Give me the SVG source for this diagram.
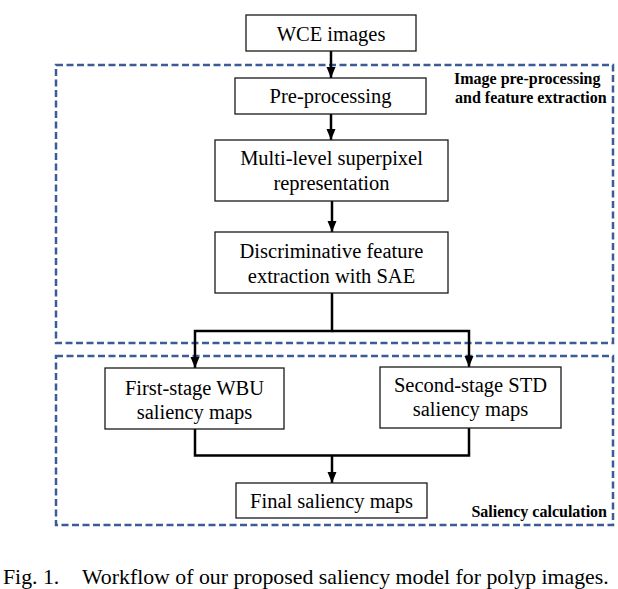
<svg xmlns="http://www.w3.org/2000/svg" width="618" height="589" viewBox="0 0 618 589">
<style>
.box{fill:#fff;stroke:#1a1a1a;stroke-width:1.3}
.t{font-family:"Liberation Serif","Times New Roman",serif;font-size:20.5px;fill:#000;text-anchor:middle}
.lbl{font-family:"Liberation Serif","Times New Roman",serif;font-size:16px;font-weight:bold;fill:#000}
.grp{fill:none;stroke:#3b5c99;stroke-width:2.5;stroke-dasharray:7 3.5}
.c{fill:none;stroke:#000;stroke-width:2.5}
.cap{font-family:"Liberation Serif","Times New Roman",serif;font-size:21.8px;fill:#000}
</style>
<defs>
<marker id="ah" markerUnits="userSpaceOnUse" markerWidth="12" markerHeight="12" viewBox="0 0 12 12" refX="11" refY="6" orient="auto">
<path d="M0,1.5 L11,6 L0,10.5 Z" fill="#000"/>
</marker>
</defs>
<g id="group-preprocessing">
<rect class="grp" x="56" y="65" width="557" height="278"/>
<text class="lbl" x="454" y="84">Image pre-processing</text>
<text class="lbl" x="455" y="103">and feature extraction</text>
</g>
<g id="group-saliency">
<rect class="grp" x="56" y="356" width="557" height="169"/>
<text class="lbl" x="607" y="517" text-anchor="end">Saliency calculation</text>
</g>
<g id="connectors">
<path class="c" d="M331,51 V78" marker-end="url(#ah)"/>
<path class="c" d="M331,114 V140" marker-end="url(#ah)"/>
<path class="c" d="M332,201 V232" marker-end="url(#ah)"/>
<path class="c" d="M332,293 V331 H195 V368" marker-end="url(#ah)"/>
<path class="c" d="M332,331 H469 V367" marker-end="url(#ah)"/>
<path class="c" d="M195,429 V455.5 H469 V428"/>
<path class="c" d="M332,455.5 V483" marker-end="url(#ah)"/>
</g>
<g id="wce">
<rect class="box" x="246" y="15" width="170" height="36"/>
<text class="t" x="331" y="41">WCE images</text>
</g>
<g id="preprocessing">
<rect class="box" x="235" y="78" width="191" height="36"/>
<text class="t" x="330.5" y="103">Pre-processing</text>
</g>
<g id="superpixel">
<rect class="box" x="215" y="140" width="233" height="61"/>
<text class="t" x="331.5" y="165">Multi-level superpixel</text>
<text class="t" x="331.5" y="190">representation</text>
</g>
<g id="sae">
<rect class="box" x="215" y="232" width="233" height="61"/>
<text class="t" x="331.5" y="258">Discriminative feature</text>
<text class="t" x="331.5" y="283">extraction with SAE</text>
</g>
<g id="wbu">
<rect class="box" x="105" y="368" width="179" height="61"/>
<text class="t" x="194.5" y="395">First-stage WBU</text>
<text class="t" x="194.5" y="419">saliency maps</text>
</g>
<g id="std">
<rect class="box" x="380" y="367" width="181" height="61"/>
<text class="t" x="470.5" y="392">Second-stage STD</text>
<text class="t" x="470.5" y="416">saliency maps</text>
</g>
<g id="final">
<rect class="box" x="236" y="483" width="191" height="35"/>
<text class="t" x="331.5" y="508">Final saliency maps</text>
</g>
<text class="cap" x="3" y="584">Fig. 1.</text>
<text class="cap" x="82" y="584">Workflow of our proposed saliency model for polyp images.</text>
</svg>
